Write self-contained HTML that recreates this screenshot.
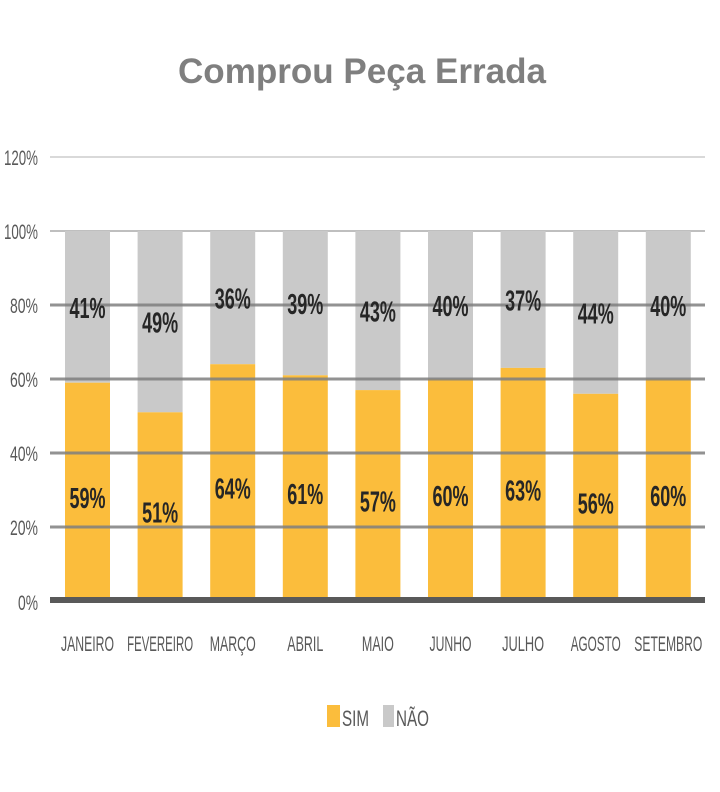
<!DOCTYPE html>
<html><head><meta charset="utf-8"><style>body{margin:0;background:#fff}svg{display:block}</style></head><body>
<svg width="720" height="792" xmlns="http://www.w3.org/2000/svg" font-family="Liberation Sans, sans-serif">
<text x="362" y="83" text-anchor="middle" font-size="35" font-weight="bold" fill="#7f7f7f" textLength="368" lengthAdjust="spacingAndGlyphs">Comprou Peça Errada</text>
<line x1="50" x2="705" y1="157" y2="157" stroke="#d9d9d9" stroke-width="2"/>
<line x1="50" x2="705" y1="231" y2="231" stroke="#bfbfbf" stroke-width="2"/>
<g fill="#c9c9c9">
<rect x="65" y="231" width="45" height="151.7"/>
<rect x="137.6" y="231" width="45" height="181.3"/>
<rect x="210.2" y="231" width="45" height="133.2"/>
<rect x="282.8" y="231" width="45" height="144.3"/>
<rect x="355.4" y="231" width="45" height="159.1"/>
<rect x="428" y="231" width="45" height="148"/>
<rect x="500.6" y="231" width="45" height="136.9"/>
<rect x="573.2" y="231" width="45" height="162.8"/>
<rect x="645.8" y="231" width="45" height="148"/>
</g>
<g fill="#fbbd3c">
<rect x="65" y="382.7" width="45" height="218.3"/>
<rect x="137.6" y="412.3" width="45" height="188.7"/>
<rect x="210.2" y="364.2" width="45" height="236.8"/>
<rect x="282.8" y="375.3" width="45" height="225.7"/>
<rect x="355.4" y="390.1" width="45" height="210.9"/>
<rect x="428" y="379" width="45" height="222"/>
<rect x="500.6" y="367.9" width="45" height="233.1"/>
<rect x="573.2" y="393.8" width="45" height="207.2"/>
<rect x="645.8" y="379" width="45" height="222"/>
</g>
<g stroke="#7f7f7f" stroke-width="3" opacity="0.85">
<line x1="50" x2="705" y1="305" y2="305"/>
<line x1="50" x2="705" y1="379" y2="379"/>
<line x1="50" x2="705" y1="453" y2="453"/>
<line x1="50" x2="705" y1="527" y2="527"/>
</g>
<rect x="50" y="597" width="655" height="6" fill="#595959"/>
<g font-size="29" font-weight="bold" fill="#262626" text-anchor="middle">
<text x="87.5" y="507.9" textLength="36" lengthAdjust="spacingAndGlyphs">59%</text>
<text x="160.1" y="522.7" textLength="36" lengthAdjust="spacingAndGlyphs">51%</text>
<text x="232.7" y="498.6" textLength="36" lengthAdjust="spacingAndGlyphs">64%</text>
<text x="305.3" y="504.2" textLength="36" lengthAdjust="spacingAndGlyphs">61%</text>
<text x="377.9" y="511.6" textLength="36" lengthAdjust="spacingAndGlyphs">57%</text>
<text x="450.5" y="506" textLength="36" lengthAdjust="spacingAndGlyphs">60%</text>
<text x="523.1" y="500.5" textLength="36" lengthAdjust="spacingAndGlyphs">63%</text>
<text x="595.7" y="513.4" textLength="36" lengthAdjust="spacingAndGlyphs">56%</text>
<text x="668.3" y="506" textLength="36" lengthAdjust="spacingAndGlyphs">60%</text>
<text x="87.5" y="317.9" textLength="36" lengthAdjust="spacingAndGlyphs">41%</text>
<text x="160.1" y="332.7" textLength="36" lengthAdjust="spacingAndGlyphs">49%</text>
<text x="232.7" y="308.6" textLength="36" lengthAdjust="spacingAndGlyphs">36%</text>
<text x="305.3" y="314.2" textLength="36" lengthAdjust="spacingAndGlyphs">39%</text>
<text x="377.9" y="321.6" textLength="36" lengthAdjust="spacingAndGlyphs">43%</text>
<text x="450.5" y="316" textLength="36" lengthAdjust="spacingAndGlyphs">40%</text>
<text x="523.1" y="310.5" textLength="36" lengthAdjust="spacingAndGlyphs">37%</text>
<text x="595.7" y="323.4" textLength="36" lengthAdjust="spacingAndGlyphs">44%</text>
<text x="668.3" y="316" textLength="36" lengthAdjust="spacingAndGlyphs">40%</text>
</g>
<g font-size="21" fill="#595959" text-anchor="end">
<text x="38" y="165" textLength="34" lengthAdjust="spacingAndGlyphs">120%</text>
<text x="38" y="239" textLength="34" lengthAdjust="spacingAndGlyphs">100%</text>
<text x="38" y="313" textLength="28" lengthAdjust="spacingAndGlyphs">80%</text>
<text x="38" y="387" textLength="28" lengthAdjust="spacingAndGlyphs">60%</text>
<text x="38" y="461" textLength="28" lengthAdjust="spacingAndGlyphs">40%</text>
<text x="38" y="535" textLength="28" lengthAdjust="spacingAndGlyphs">20%</text>
<text x="38" y="610" textLength="20" lengthAdjust="spacingAndGlyphs">0%</text>
</g>
<g font-size="21" fill="#595959" text-anchor="middle">
<text x="87.5" y="651" textLength="53" lengthAdjust="spacingAndGlyphs">JANEIRO</text>
<text x="160.1" y="651" textLength="66" lengthAdjust="spacingAndGlyphs">FEVEREIRO</text>
<text x="232.7" y="651" textLength="46" lengthAdjust="spacingAndGlyphs">MARÇO</text>
<text x="305.3" y="651" textLength="36" lengthAdjust="spacingAndGlyphs">ABRIL</text>
<text x="377.9" y="651" textLength="32" lengthAdjust="spacingAndGlyphs">MAIO</text>
<text x="450.5" y="651" textLength="42" lengthAdjust="spacingAndGlyphs">JUNHO</text>
<text x="523.1" y="651" textLength="42" lengthAdjust="spacingAndGlyphs">JULHO</text>
<text x="595.7" y="651" textLength="50" lengthAdjust="spacingAndGlyphs">AGOSTO</text>
<text x="668.3" y="651" textLength="68" lengthAdjust="spacingAndGlyphs">SETEMBRO</text>
</g>
<rect x="327" y="705" width="13" height="22" fill="#fbbd3c"/>
<text x="342" y="726" font-size="22" fill="#595959" textLength="27" lengthAdjust="spacingAndGlyphs">SIM</text>
<rect x="383" y="705" width="11" height="22" fill="#c9c9c9"/>
<text x="396" y="726" font-size="22" fill="#595959" textLength="33" lengthAdjust="spacingAndGlyphs">NÃO</text>
</svg>
</body></html>
